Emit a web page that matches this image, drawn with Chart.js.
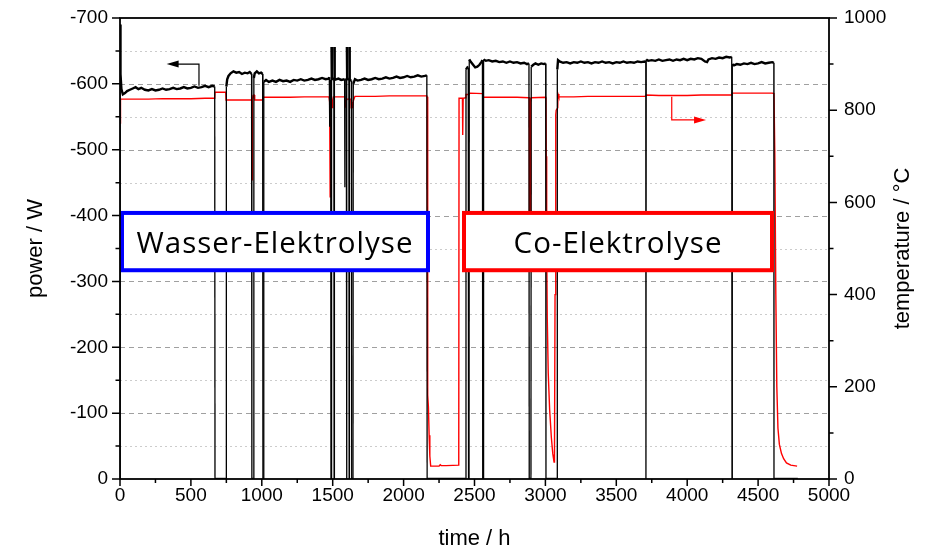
<!DOCTYPE html>
<html><head><meta charset="utf-8">
<script src="https://cdn.jsdelivr.net/npm/chart.js@4/dist/chart.umd.min.js"></script>
<style>html,body{margin:0;padding:0;background:#fff}canvas{display:block}</style>
</head><body>
<canvas id="c" width="933" height="547"></canvas>
<script>
// ---- data (time in h, power in W, temperature in °C) ----
const powerTime = [0,0.5,2,5,10,20,35,50,70,90,110,130,150,175,200,225,250,275,300,325,350,375,400,425,450,475,500,525,550,575,600,625,650,668,670,
748,750,756,765,780,800,820,840,860,880,900,915,928,930,942,944,950,965,980,995,1006,1008,1012,1014,1030,1050,1075,1100,1125,1150,1175,1200,1225,1250,1275,1300,1325,1350,1375,1400,1425,1450,1472,
1476,1479,1482,1486,1488,1491,1492,1494,1508,1510,1512,1514,1540,1560,1584,1586,1588,1596,1598,1600,1602,1614,1616,1618,1620,1632,1634,1643,1645,
1657,1675,1700,1725,1750,1775,1800,1825,1850,1875,1900,1925,1950,1975,2000,2025,2050,2075,2100,2125,2150,2164,2166,
2438,2440,2450,2456,2458,2461,2463,2475,2490,2505,2520,2535,2548,2556,2558,2562,2564,2580,2600,2625,2650,2675,2700,2725,2750,2775,2800,2825,2850,2870,2884,2886,
2898,2900,2915,2930,2950,2970,2990,3002,3004,3082,3084,3089,3100,3125,3150,3175,3200,3225,3250,3275,3300,3325,3350,3375,3400,3425,3450,3475,3500,3525,3550,3575,3600,3625,3650,3675,3700,3708,3709,3711,
3725,3750,3775,3800,3825,3850,3875,3900,3925,3950,3975,4000,4025,4050,4075,4100,4125,4140,4150,4175,4200,4225,4250,4275,4300,4314,4316,4318,
4330,4350,4375,4400,4425,4450,4475,4500,4525,4550,4575,4600,4611,4612,4780];
const powerValue = [0,-690,-655,-615,-592,-584,-586,-589,-591,-593,-595,-592,-594,-591,-590,-592,-590,-591,-593,-591,-592,-594,-592,-593,-595,-593,-594,-596,-594,-595,-597,-595,-597,-596,0,
0,-596,-607,-612,-616,-619,-617,-618,-615,-617,-616,-618,-615,0,0,-609,-616,-619,-616,-617,-615,0,0,-603,-606,-603,-605,-603,-606,-604,-605,-603,-606,-605,-607,-605,-606,-608,-606,-607,-609,-607,-608,
-610,-535,-606,-604,0,0,-656,-607,-609,0,-656,-606,-608,-606,-607,-443,-606,-607,0,-656,-607,-608,0,-656,-606,-605,0,0,-600,
-607,-605,-606,-608,-606,-607,-609,-607,-608,-610,-608,-609,-611,-609,-610,-612,-610,-611,-613,-611,-612,-613,0,
0,-622,-625,-624,0,0,-637,-633,-629,-625,-626,-629,-633,-636,0,0,-637,-635,-636,-634,-635,-633,-634,-632,-634,-632,-633,-631,-632,-630,-631,0,
0,-626,-629,-631,-629,-631,-630,-631,0,0,-622,-636,-634,-632,-633,-631,-633,-632,-634,-632,-633,-631,-633,-632,-634,-632,-633,-631,-633,-632,-634,-632,-633,-632,-634,-633,-634,-633,0,-637,
-635,-636,-635,-637,-635,-636,-637,-635,-637,-636,-638,-636,-638,-637,-639,-638,-634,-633,-637,-639,-638,-640,-639,-641,-640,-641,0,-630,
-628,-630,-629,-631,-630,-632,-630,-631,-633,-631,-632,-633,-632,0,0];

const tempTime = [0,2,5,100,200,300,400,500,600,668,670,746,748,800,900,929,931,933,938,945,950,1006,1010,1100,1200,1300,1400,1474,1477,1480,1482,1485,1492,1497,1500,1505,
1586,1588,1592,1600,1628,1630,1636,1640,1645,1657,1800,1900,2000,2100,2164,2166,2168,2170,2172,2175,2180,2185,2191,2250,2258,2265,2300,2389,2391,2415,2417,2420,2438,2440,2460,2468,2558,2560,
2700,2800,2884,2886,2888,2892,2896,2900,3002,3004,3006,3009,3013,3020,3030,3042,3052,3061,3064,3068,3073,3076,3087,3089,3095,3200,3300,3400,3500,3600,3700,3709,3711,3800,3900,4000,4100,4200,4314,4316,
4400,4500,4600,4612,4618,4625,4632,4640,4650,4665,4680,4700,4730,4775];
const tempValue = [772,795,824,824,824,825,825,825,826,826,839,839,822,822,822,822,649,822,832,833,822,822,828,828,828,829,829,829,818,818,612,818,818,806,822,829,
829,807,818,824,824,805,818,805,820,830,830,831,831,831,831,829,500,250,182,156,95,50,28,28,31,29,29,30,826,826,746,826,827,834,834,837,836,828,
828,828,827,827,540,540,826,827,828,826,700,500,350,230,150,90,55,37,45,400,790,800,805,835,829,829,830,830,830,830,830,831,833,832,832,832,833,833,833,837,
837,837,837,836,700,400,200,110,75,55,44,35,30,28];

const phaseLabels = ['Wasser-Elektrolyse', 'Co-Elektrolyse'];

// ---- annotation geometry (data coordinates) ----
const phaseBoxes = [
  {t0: 14, t1: 2172, p0: -404, p1: -317, color: '#0000ff'},
  {t0: 2426, t1: 4598, p0: -404, p1: -317, color: '#ff0000'}
];
const powerArrow = {tv: 557, fromP: -597, toP: -630, tipT: 329, color: '#000000'};
const tempArrow = {tv: 3891, fromT: 829, toT: 779, tipT: 4133, color: '#ff0000'};

const FONT = '"Liberation Sans", Arial, sans-serif';

const deco = {
  id: 'deco',
  beforeDatasetsDraw(chart) {
    const {ctx, chartArea: a, scales: {y}} = chart;
    ctx.save();
    for (let v = -650; v <= -50; v += 50) {
      const py = Math.round(y.getPixelForValue(v)) + 0.5;
      const major = v % 100 === 0;
      ctx.strokeStyle = major ? '#a0a0a0' : '#cccccc';
      ctx.lineWidth = 1;
      ctx.setLineDash(major ? [5, 4] : [2, 3]);
      ctx.beginPath(); ctx.moveTo(a.left, py); ctx.lineTo(a.right, py); ctx.stroke();
    }
    ctx.restore();
  },
  afterDatasetsDraw(chart) {
    const {ctx, scales: {x, y, y2}} = chart;
    ctx.save();
    const drawArrow = (xv, y0, y1, xt, color, dir) => {
      ctx.strokeStyle = color; ctx.fillStyle = color; ctx.lineWidth = 1.2; ctx.setLineDash([]);
      ctx.beginPath(); ctx.moveTo(xv, y0); ctx.lineTo(xv, y1); ctx.lineTo(xt - dir * 10, y1); ctx.stroke();
      ctx.beginPath(); ctx.moveTo(xt, y1); ctx.lineTo(xt - dir * 12, y1 - 3.5); ctx.lineTo(xt - dir * 12, y1 + 3.5); ctx.closePath(); ctx.fill();
    };
    drawArrow(x.getPixelForValue(powerArrow.tv), y.getPixelForValue(powerArrow.fromP), y.getPixelForValue(powerArrow.toP),
      x.getPixelForValue(powerArrow.tipT), powerArrow.color, -1);
    drawArrow(x.getPixelForValue(tempArrow.tv), y2.getPixelForValue(tempArrow.fromT), y2.getPixelForValue(tempArrow.toT),
      x.getPixelForValue(tempArrow.tipT), tempArrow.color, 1);
    phaseBoxes.forEach((b, i) => {
      const l = x.getPixelForValue(b.t0), r = x.getPixelForValue(b.t1);
      const t = y.getPixelForValue(b.p0), bt = y.getPixelForValue(b.p1);
      ctx.fillStyle = '#ffffff';
      ctx.fillRect(l, t, r - l, bt - t);
      ctx.strokeStyle = b.color; ctx.lineWidth = 4;
      ctx.strokeRect(l, t, r - l, bt - t);
      ctx.fillStyle = '#000';
      ctx.font = '29.5px "Open Sans", sans-serif';
      ctx.letterSpacing = '1px';
      ctx.textAlign = 'center'; ctx.textBaseline = 'alphabetic';
      ctx.fillText(phaseLabels[i], (l + r) / 2, (t + bt) / 2 + 11);
      ctx.letterSpacing = '0px';
    });
    ctx.restore();
  },
  afterDraw(chart) {
    const {ctx, chartArea: a, scales: {x, y, y2}} = chart;
    ctx.save();
    ctx.strokeStyle = '#000'; ctx.lineWidth = 1.8; ctx.setLineDash([]);
    ctx.strokeRect(a.left, a.top, a.right - a.left, a.bottom - a.top);
    ctx.lineWidth = 1.5;
    ctx.beginPath();
    for (let v = -700; v <= 0; v += 50) {
      const py = y.getPixelForValue(v);
      ctx.moveTo(a.left - (v % 100 === 0 ? 8 : 4.5), py); ctx.lineTo(a.left, py);
    }
    for (let v = 0; v <= 1000; v += 100) {
      const py = y2.getPixelForValue(v);
      ctx.moveTo(a.right, py); ctx.lineTo(a.right + (v % 200 === 0 ? 8 : 4.5), py);
    }
    for (let v = 0; v <= 5000; v += 250) {
      const px = x.getPixelForValue(v);
      ctx.moveTo(px, a.bottom); ctx.lineTo(px, a.bottom + (v % 500 === 0 ? 7 : 4));
    }
    ctx.stroke();
    ctx.translate(903, (a.top + a.bottom) / 2);
    ctx.rotate(-Math.PI / 2);
    ctx.fillStyle = '#000';
    ctx.font = '22px ' + FONT;
    ctx.textAlign = 'center'; ctx.textBaseline = 'middle';
    ctx.fillText('temperature / °C', 0, 0);
    ctx.restore();
  }
};

const toXY = (ts, vs) => ts.map((t, i) => ({x: t, y: vs[i]}));
const tickFont = {family: FONT, size: 19};

new Chart(document.getElementById('c'), {
  type: 'line',
  data: {
    datasets: [
      {
        label: 'power', data: toXY(powerTime, powerValue), yAxisID: 'y',
        borderColor: '#000000', borderWidth: 2.4, pointRadius: 0, tension: 0,
        segment: { borderWidth: c => Math.abs(c.p0.parsed.y - c.p1.parsed.y) > 60 ? 1.3 : 2.4 }
      },
      {
        label: 'temperature', data: toXY(tempTime, tempValue), yAxisID: 'y2',
        borderColor: '#ff0000', borderWidth: 1.4, pointRadius: 0, tension: 0
      }
    ]
  },
  options: {
    responsive: false, animation: false, devicePixelRatio: 1,
    layout: {padding: {top: 18, left: 0, right: 0, bottom: 0}},
    plugins: {legend: {display: false}, tooltip: {enabled: false}},
    scales: {
      x: {
        type: 'linear', min: 0, max: 5000,
        grid: {display: false, drawTicks: false}, border: {display: false},
        ticks: {stepSize: 500, autoSkip: false, maxRotation: 0, padding: 5, color: '#000', font: tickFont, callback: v => String(v)},
        title: {display: true, text: 'time / h', color: '#000', font: {family: FONT, size: 22, lineHeight: 1}, padding: {top: 0, bottom: -3}},
        afterFit: s => { s.height = 68; }
      },
      y: {
        position: 'left', min: -700, max: 0, reverse: true,
        grid: {display: false, drawTicks: true, tickLength: 10}, border: {display: false},
        ticks: {stepSize: 100, padding: 2, color: '#000', font: tickFont, callback: v => String(v)},
        title: {display: true, text: 'power / W', color: '#000', font: {family: FONT, size: 22, lineHeight: 1}, padding: {top: 25, bottom: 0}},
        afterFit: s => { s.width = 120; }
      },
      y2: {
        position: 'right', min: 0, max: 1000,
        grid: {display: false, drawTicks: true, tickLength: 13}, border: {display: false},
        ticks: {stepSize: 200, padding: 2, color: '#000', font: tickFont, callback: v => String(v)},
        afterFit: s => { s.width = 104; }
      }
    }
  },
  plugins: [deco]
});
</script>
</body></html>
